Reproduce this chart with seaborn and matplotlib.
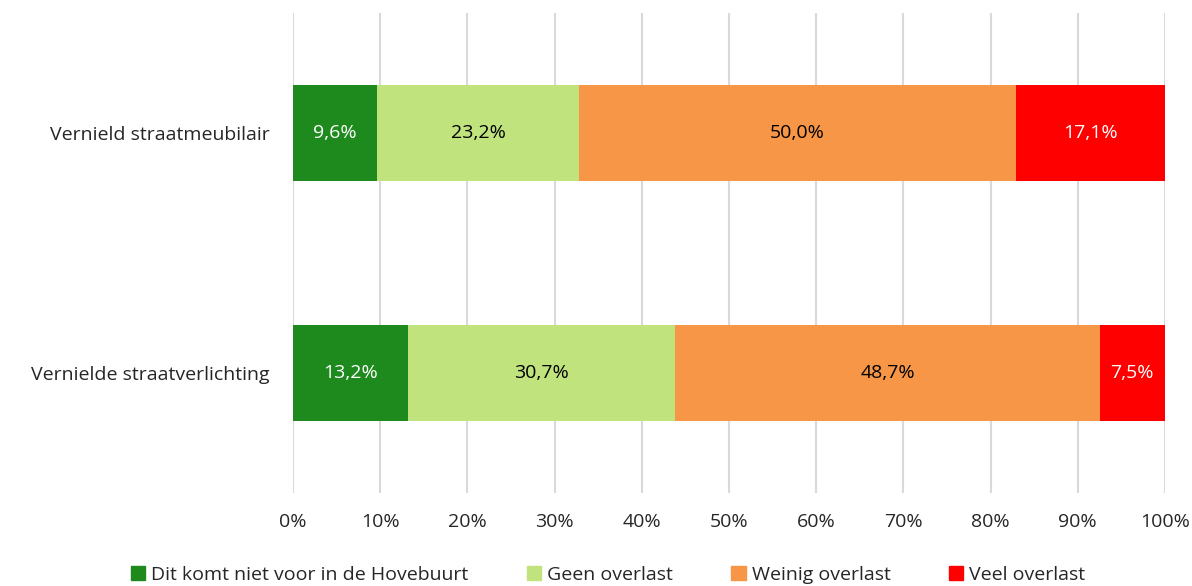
import numpy as np
import pandas as pd
import matplotlib
matplotlib.use('Agg')
import matplotlib.pyplot as plt
import seaborn as sns

sns.set_style("white")
plt.rcParams['font.family'] = ['Open Sans', 'DejaVu Sans']

categories = ['Vernield straatmeubilair', 'Vernielde straatverlichting']
series = ['Dit komt niet voor in de Hovebuurt', 'Geen overlast', 'Weinig overlast', 'Veel overlast']
values = {
    'Dit komt niet voor in de Hovebuurt': [9.6, 13.2],
    'Geen overlast': [23.2, 30.7],
    'Weinig overlast': [50.0, 48.7],
    'Veel overlast': [17.1, 7.5],
}
colors = ['#1E8A1E', '#C0E37E', '#F79646', '#FF0000']
text_colors = ['white', 'black', 'black', 'white']
fs = 14

df = pd.DataFrame(values, index=categories)
cum = df.cumsum(axis=1)
# rows don't sum to exactly 100 (rounding), stretch them to the full width
cum = cum.div(cum.iloc[:, -1], axis=0) * 100

fig = plt.figure(figsize=(11.92, 5.86), dpi=100)
ax = fig.add_axes([0.2458, 0.158, 0.9773 - 0.2458, 0.977 - 0.158])

# stacked bars: draw cumulative totals back to front
for i in range(len(series) - 1, -1, -1):
    d = pd.DataFrame({'cat': categories, 'val': cum.iloc[:, i].values})
    sns.barplot(data=d, y='cat', x='val', color=colors[i], orient='h',
                width=0.4, saturation=1, linewidth=0, ax=ax, zorder=2)

for j, cat in enumerate(categories):
    left = 0
    for i, s in enumerate(series):
        right = cum.iloc[j, i]
        ax.text((left + right) / 2, j, f"{df.iloc[j, i]:.1f}%".replace('.', ','),
                ha='center', va='center', fontsize=fs, color=text_colors[i], zorder=3)
        left = right

ax.set_xlim(0, 100)
ax.set_ylim(1.5, -0.5)
ax.set_xticks(np.arange(0, 101, 10))
ax.set_xticklabels([f"{t}%" for t in range(0, 101, 10)], fontsize=fs)
ax.tick_params(axis='x', length=0, pad=14)
ax.tick_params(axis='y', length=0, pad=17, labelsize=fs)
ax.set_xlabel('')
ax.set_ylabel('')
ax.xaxis.grid(True, color='#D9D9D9', linewidth=1.5, zorder=0)
ax.set_axisbelow(True)
for sp in ax.spines.values():
    sp.set_visible(False)

handles = [plt.Rectangle((0, 0), 1, 1, color=c) for c in colors]
fig.legend(handles, series, loc='center', bbox_to_anchor=(0.51, 0.019), ncol=4,
           frameon=False, fontsize=fs, handlelength=0.75, handleheight=0.75,
           handletextpad=0.3, columnspacing=3.0)

plt.savefig('out.png', dpi=100)
